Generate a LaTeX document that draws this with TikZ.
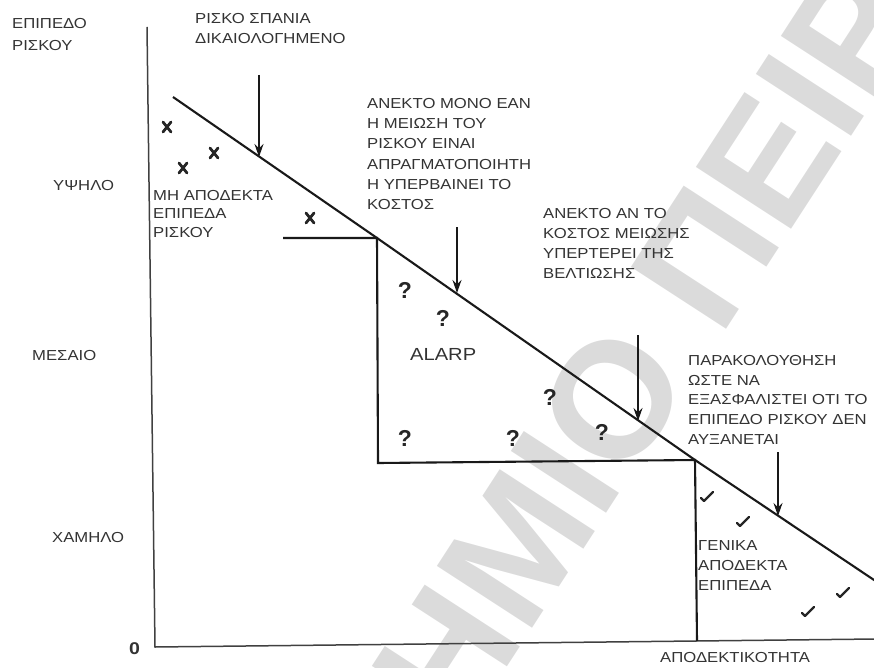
\documentclass[tikz,border=0pt]{standalone}
\usepackage{fontspec}
\setmainfont{Liberation Sans}[FakeStretch=1.15]
\newfontfamily\wmfont{Liberation Sans}
\usetikzlibrary{arrows.meta}

\tikzset{
  lbl/.style={anchor=north west, inner sep=0pt, align=left, text=black!80,
              font=\fontsize{14.5}{20}\selectfont},
  qmark/.style={inner sep=0pt, text=black!85, font=\wmfont\fontsize{23}{23}\selectfont\bfseries},
  curve/.style={line width=2.1pt, draw=black!90},
  axis/.style={line width=1.5pt, draw=black!75},
  arw/.style={-{Stealth[length=13pt,width=9pt]}, line width=1.1pt, draw=black!90},
  pics/xmark/.style={code={
    \draw[line width=2.8pt, black!85, line cap=round] (-4,-5) -- (4,5) (4,-5) -- (-4,5);}},
  pics/tick/.style={code={
    \draw[line width=2.4pt, black!85, line cap=round, line join=round]
      (-6,1) -- (-3,4) -- (6,-5);}},
}

\begin{document}
\begin{tikzpicture}[x=1pt, y=-1pt]
\useasboundingbox (0,0) rectangle (874,668);
\clip (0,0) rectangle (874,668);

% background watermark lettering
\node[anchor=base west, rotate=57, inner sep=0pt, text=black!14,
      font=\wmfont\fontsize{165}{165}\selectfont\bfseries] (wm) at (461,738) {ΗΜΙΟ ΠΕΙΡ};

% axes
\coordinate (ytop) at (147,27);
\coordinate (orig) at (155,647);
\coordinate (xend) at (876,639);
\draw[axis] (ytop) -- (orig) -- (xend);

% risk boundary line and the two steps
\coordinate (d0) at (173,97);
\coordinate (c1) at (377,238);
\coordinate (c2) at (695,460);
\coordinate (d9) at (880,584);
\draw[curve] (d0) -- (c1) -- (c2) -- (d9);
\coordinate (s1) at (283,238);
\coordinate (s2) at (378,463);
\coordinate (s3) at (697,641);
\draw[curve] (s1) -- (c1) -- (s2) -- (c2) -- (s3);

% axis labels
\node[lbl, font=\fontsize{14.5}{22}\selectfont] (ylab) at (12,18) {ΕΠΙΠΕΔΟ\\ΡΙΣΚΟΥ};
\node[lbl] (high) at (53,180) {ΥΨΗΛΟ};
\node[lbl] (med) at (32,350) {ΜΕΣΑΙΟ};
\node[lbl] (low) at (52,532) {ΧΑΜΗΛΟ};
\node[lbl, font=\fontsize{17}{17}\selectfont\bfseries] (zero) at (129,642) {0};
\node[lbl] (xlab) at (660,652) {ΑΠΟΔΕΚΤΙΚΟΤΗΤΑ};

% region labels
\node[lbl, font=\fontsize{14.5}{18.5}\selectfont] (unacc) at (153,190) {ΜΗ ΑΠΟΔΕΚΤΑ\\ΕΠΙΠΕΔΑ\\ΡΙΣΚΟΥ};
\node[lbl, font=\fontsize{17.5}{18}\selectfont] (alarp) at (410,348) {ALARP};
\node[lbl] (genacc) at (698,540) {ΓΕΝΙΚΑ\\ΑΠΟΔΕΚΤΑ\\ΕΠΙΠΕΔΑ};

% annotations above the boundary
\node[lbl] (n1) at (195,13) {ΡΙΣΚΟ ΣΠΑΝΙΑ\\ΔΙΚΑΙΟΛΟΓΗΜΕΝΟ};
\node[lbl, font=\fontsize{14.5}{20.3}\selectfont] (n2) at (367,98)
  {ΑΝΕΚΤΟ ΜΟΝΟ ΕΑΝ\\Η ΜΕΙΩΣΗ ΤΟΥ\\ΡΙΣΚΟΥ ΕΙΝΑΙ\\ΑΠΡΑΓΜΑΤΟΠΟΙΗΤΗ\\Η ΥΠΕΡΒΑΙΝΕΙ ΤΟ\\ΚΟΣΤΟΣ};
\node[lbl] (n3) at (543,208) {ΑΝΕΚΤΟ ΑΝ ΤΟ\\ΚΟΣΤΟΣ ΜΕΙΩΣΗΣ\\ΥΠΕΡΤΕΡΕΙ ΤΗΣ\\ΒΕΛΤΙΩΣΗΣ};
\node[lbl, font=\fontsize{14.5}{19.7}\selectfont] (n4) at (688,355)
  {ΠΑΡΑΚΟΛΟΥΘΗΣΗ\\ΩΣΤΕ ΝΑ\\ΕΞΑΣΦΑΛΙΣΤΕΙ ΟΤΙ ΤΟ\\ΕΠΙΠΕΔΟ ΡΙΣΚΟΥ ΔΕΝ\\ΑΥΞΑΝΕΤΑΙ};

% pointer arrows onto the boundary
\coordinate (a1s) at (259,75);  \coordinate (a1e) at (259,157);
\coordinate (a2s) at (457,227); \coordinate (a2e) at (457,293);
\coordinate (a3s) at (638,335); \coordinate (a3e) at (638,421);
\coordinate (a4s) at (778,452); \coordinate (a4e) at (778,516);
\draw[arw] (a1s) -- (a1e);
\draw[arw] (a2s) -- (a2e);
\draw[arw] (a3s) -- (a3e);
\draw[arw] (a4s) -- (a4e);

% unacceptable risks
\pic at (167,127) {xmark};
\pic at (183,168) {xmark};
\pic at (214,153) {xmark};
\pic at (310,218) {xmark};

% ALARP risks
\node[qmark] (q1) at (405,290) {?};
\node[qmark] (q2) at (443,318) {?};
\node[qmark] (q3) at (550,397) {?};
\node[qmark] (q4) at (405,438) {?};
\node[qmark] (q5) at (513,438) {?};
\node[qmark] (q6) at (602,432) {?};

% broadly acceptable risks
\pic at (707,497) {tick};
\pic at (743,522) {tick};
\pic at (843,593) {tick};
\pic at (808,612) {tick};
\end{tikzpicture}
\end{document}
